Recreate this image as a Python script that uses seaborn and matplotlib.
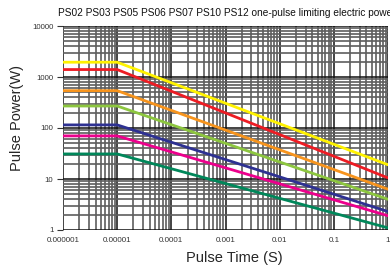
import numpy as np
import pandas as pd
import matplotlib
matplotlib.use("Agg")
import matplotlib.pyplot as plt
import seaborn as sns
from matplotlib.ticker import LogLocator, FixedLocator, NullFormatter

# pulse time (s): start, knee, end
pulse_time = [0.000001, 0.00001, 1.0]

# pulse power (W) read at each of the three times
models = ["PS12", "PS10", "PS07", "PS06", "PS05", "PS03", "PS02"]
power_start = [1950, 1400, 540, 270, 115, 70, 31]
power_knee = [1950, 1400, 540, 270, 115, 70, 31]
power_end = [19, 10.5, 6.3, 4.0, 2.3, 1.9, 1.1]
colors = ["#fff200", "#ed1c24", "#f7941d", "#8dc63f", "#2e3192", "#ec008c", "#00875a"]

x_ticks = [1e-6, 1e-5, 1e-4, 1e-3, 1e-2, 1e-1, 1]
x_tick_labels = ["0.000001", "0.00001", "0.0001", "0.001", "0.01", "0.1", "1"]
y_ticks = [1, 10, 100, 1000, 10000]
y_tick_labels = ["1", "10", "100", "1000", "10000"]

rows = []
for i, m in enumerate(models):
    for t, p in zip(pulse_time, [power_start[i], power_knee[i], power_end[i]]):
        rows.append({"model": m, "time": t, "power": p})
df = pd.DataFrame(rows)

sns.set_style("white")
plt.rcParams["font.family"] = ["Liberation Sans", "DejaVu Sans"]

fig = plt.figure(figsize=(3.9, 2.68), dpi=100)
ax = fig.add_axes([63 / 390, 38 / 268, 325 / 390, 204 / 268])

sns.lineplot(data=df, x="time", y="power", hue="model", palette=colors,
             linewidth=2.0, legend=False, ax=ax, zorder=3)

ax.set_xscale("log")
ax.set_yscale("log")
ax.set_xlim(1e-6, 1)
ax.set_ylim(1, 10000)

ax.xaxis.set_major_locator(FixedLocator(x_ticks))
ax.set_xticklabels(x_tick_labels)
ax.yaxis.set_major_locator(FixedLocator(y_ticks))
ax.set_yticklabels(y_tick_labels)
ax.xaxis.set_minor_locator(LogLocator(base=10, subs=np.arange(2, 10), numticks=20))
ax.yaxis.set_minor_locator(LogLocator(base=10, subs=np.arange(2, 10), numticks=20))
ax.xaxis.set_minor_formatter(NullFormatter())
ax.yaxis.set_minor_formatter(NullFormatter())

ax.grid(which="major", color="#111111", linewidth=1.1)
ax.grid(which="minor", color="#5e5e5e", linewidth=1.2)
ax.set_axisbelow(True)

ax.tick_params(axis="x", which="both", length=0, pad=5, labelsize=5.8, labelcolor="#333333")
ax.tick_params(axis="y", which="major", length=4, width=0.8, color="#333333",
               direction="out", pad=3, labelsize=5.6, labelcolor="#333333", left=True)
ax.tick_params(axis="y", which="minor", length=0)
for s in ax.spines.values():
    s.set_visible(False)

ax.set_xlabel("Pulse Time (S)", fontsize=10.5, va="center")
ax.xaxis.set_label_coords(0.526, -0.137)
ax.set_ylabel("Pulse Power(W)", fontsize=10.5, va="center")
ax.yaxis.set_label_coords(-0.1415, 0.547)

# the reference crops the end of this title at the right edge
fig.text(58 / 390, 1 - 13 / 268,
         "PS02 PS03 PS05 PS06 PS07 PS10 PS12 one-pulse limiting electric power",
         fontsize=7.25, ha="left", va="center", color="#111111")

fig.savefig("out.png", dpi=100)
